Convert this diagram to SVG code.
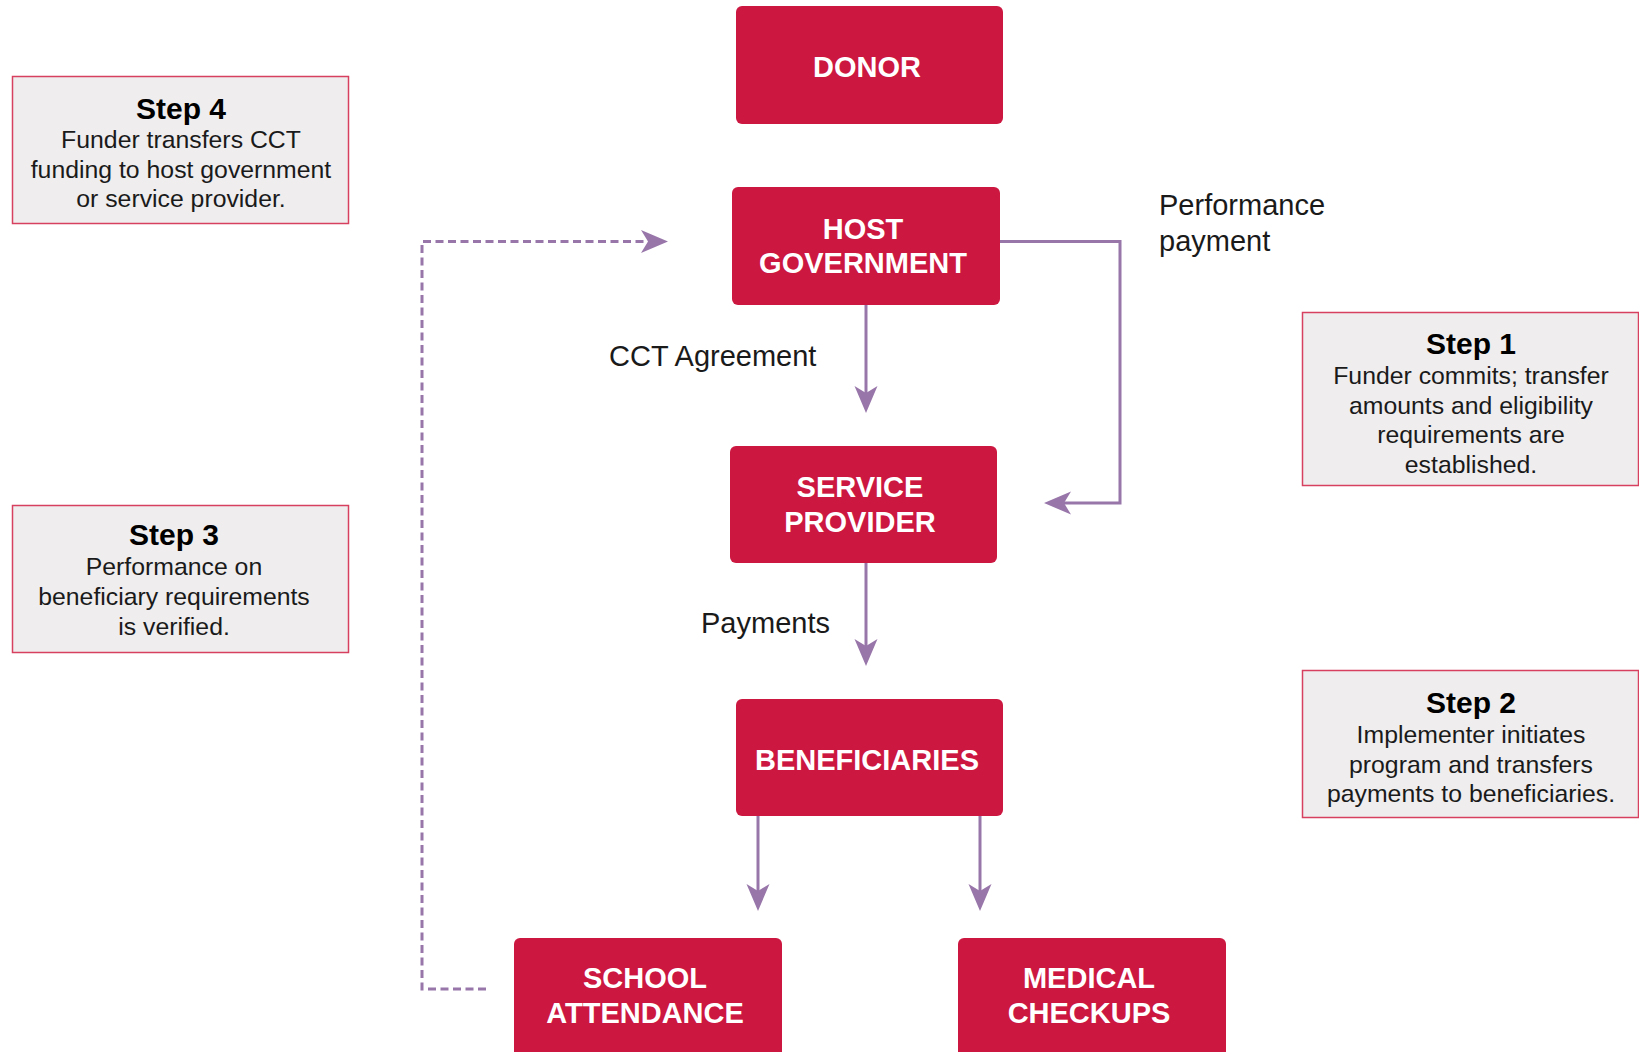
<svg xmlns="http://www.w3.org/2000/svg" width="1639" height="1052" viewBox="0 0 1639 1052">
<style>
.node rect{fill:#CC1740;}
.node text{fill:#ffffff;font-family:"Liberation Sans",Arial,sans-serif;font-size:29px;font-weight:bold;text-anchor:middle;}
.step rect{fill:#EFEDEE;stroke:#D8405F;stroke-width:1.5;}
.step text{fill:#1a1a1a;font-family:"Liberation Sans",Arial,sans-serif;font-size:24.8px;text-anchor:middle;}
.step text.h{font-size:30px;font-weight:bold;fill:#000;}
.lbl{fill:#1a1a1a;font-family:"Liberation Sans",Arial,sans-serif;font-size:29px;}
.conn{fill:none;stroke:#9876AA;stroke-width:3;}
.dash{stroke-dasharray:8 4.5;}
</style>
<defs>
<marker id="ah" viewBox="0 -12 28 24" refX="7" refY="0" markerWidth="28" markerHeight="24" markerUnits="userSpaceOnUse" orient="auto">
<path d="M0,-11.5 L27,0 L0,11.5 L7,0 Z" fill="#9876AA"/>
</marker>
</defs>
<rect width="1639" height="1052" fill="#ffffff"/>
<g id="connectors">
<path class="conn" d="M866,305 V393" marker-end="url(#ah)"/>
<path class="conn" d="M866,562 V646" marker-end="url(#ah)"/>
<path class="conn" d="M758,816 V891" marker-end="url(#ah)"/>
<path class="conn" d="M980,816 V891" marker-end="url(#ah)"/>
<path class="conn" d="M1000,241.5 H1120 V503 H1064" marker-end="url(#ah)"/>
<path class="conn dash" d="M486,989 H422 V241.5 H648" marker-end="url(#ah)"/>
</g>
<g id="label-cct"><text class="lbl" x="609" y="366">CCT Agreement</text></g>
<g id="label-payments"><text class="lbl" x="701" y="633">Payments</text></g>
<g id="label-perf"><text class="lbl" x="1159" y="215">Performance</text><text class="lbl" x="1159" y="251">payment</text></g>
<g id="donor" class="node"><rect x="736" y="6" width="267" height="118" rx="6"/><text x="867" y="77">DONOR</text></g>
<g id="host" class="node"><rect x="732" y="187" width="268" height="118" rx="6"/><text x="863" y="239">HOST</text><text x="863" y="273">GOVERNMENT</text></g>
<g id="service" class="node"><rect x="730" y="446" width="267" height="117" rx="6"/><text x="860" y="497">SERVICE</text><text x="860" y="532">PROVIDER</text></g>
<g id="beneficiaries" class="node"><rect x="736" y="699" width="267" height="117" rx="6"/><text x="867" y="770">BENEFICIARIES</text></g>
<g id="school" class="node"><rect x="514" y="938" width="268" height="130" rx="6"/><text x="645" y="988">SCHOOL</text><text x="645" y="1023">ATTENDANCE</text></g>
<g id="medical" class="node"><rect x="958" y="938" width="268" height="130" rx="6"/><text x="1089" y="988">MEDICAL</text><text x="1089" y="1023">CHECKUPS</text></g>
<g id="step4" class="step"><rect x="12.5" y="76.5" width="336" height="147"/><text class="h" x="181" y="119">Step 4</text><text x="181" y="148">Funder transfers CCT</text><text x="181" y="178">funding to host government</text><text x="181" y="207">or service provider.</text></g>
<g id="step3" class="step"><rect x="12.5" y="505.5" width="336" height="147"/><text class="h" x="174" y="545">Step 3</text><text x="174" y="575">Performance on</text><text x="174" y="605">beneficiary requirements</text><text x="174" y="635">is verified.</text></g>
<g id="step1" class="step"><rect x="1302.5" y="312.5" width="336" height="173"/><text class="h" x="1471" y="354">Step 1</text><text x="1471" y="384">Funder commits; transfer</text><text x="1471" y="414">amounts and eligibility</text><text x="1471" y="443">requirements are</text><text x="1471" y="473">established.</text></g>
<g id="step2" class="step"><rect x="1302.5" y="670.5" width="336" height="147"/><text class="h" x="1471" y="713">Step 2</text><text x="1471" y="743">Implementer initiates</text><text x="1471" y="773">program and transfers</text><text x="1471" y="802">payments to beneficiaries.</text></g>
</svg>
